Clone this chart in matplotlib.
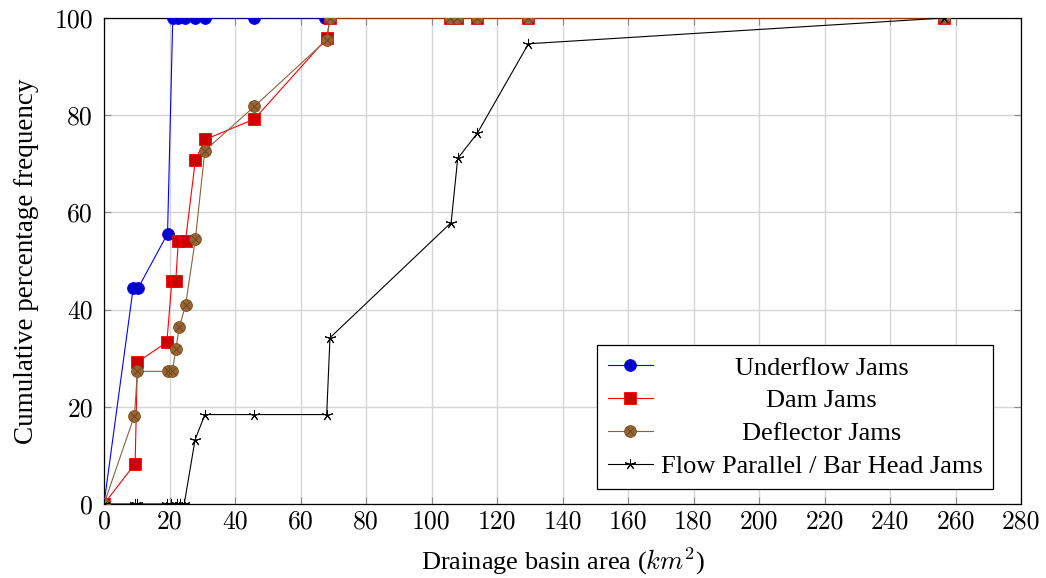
import matplotlib
matplotlib.use("Agg")
import matplotlib.pyplot as plt

# drainage basin area (km2) and cumulative percentage frequency per jam type
underflow_x = [0, 8.9, 10.4, 19.4, 21.0, 22.7, 24.7, 27.8, 30.8, 45.9, 67.5]
underflow_y = [0, 44.4, 44.4, 55.6, 100, 100, 100, 100, 100, 100, 100]

dam_x = [0, 9.5, 10.2, 19.2, 20.7, 21.9, 22.7, 24.9, 27.9, 30.9, 45.9, 68.0, 69.0,
         105.6, 107.7, 113.8, 129.6, 256.5]
dam_y = [0, 8.3, 29.2, 33.3, 45.8, 45.8, 54.2, 54.2, 70.8, 75.0, 79.2, 95.8, 100,
         100, 100, 100, 100, 100]

deflector_x = [0, 9.3, 10.2, 19.4, 20.9, 21.9, 23.0, 24.9, 27.9, 30.8, 45.9, 68.0, 69.0,
               105.6, 107.7, 113.8, 129.6, 256.5]
deflector_y = [0, 18.2, 27.3, 27.3, 27.3, 31.8, 36.4, 40.9, 54.5, 72.7, 81.8, 95.5, 100,
               100, 100, 100, 100, 100]

parallel_x = [0, 9.5, 10.0, 19.1, 20.6, 22.2, 23.2, 24.5, 27.8, 30.8, 45.9, 68.0, 69.0,
              106.0, 108.0, 114.0, 129.6, 256.5]
parallel_y = [0, 0, 0, 0, 0, 0, 0, 0, 13.2, 18.4, 18.4, 18.4, 34.2,
              57.9, 71.1, 76.3, 94.7, 100]

labels = ["Underflow Jams", "Dam Jams", "Deflector Jams", "Flow Parallel / Bar Head Jams"]

plt.rcParams["mathtext.fontset"] = "cm"
TEXT_FONT = "Liberation Serif"
TICK_FONT = "cmr10"


def plot_jams():
  fig = plt.figure(figsize=(10.46, 5.78), dpi=100)
  ax = fig.add_axes([0.09943, 0.12803, 0.87667, 0.84083])

  h1, = ax.plot(underflow_x, underflow_y, color="#0000ff", lw=0.8, marker="o", ms=8.5,
                mfc="#0000cc", mec="#0000ff", mew=0.6, zorder=3)
  h2, = ax.plot(dam_x, dam_y, color="#ff0000", lw=0.8, marker="s", ms=8.5,
                mfc="#cc0000", mec="#ff0000", mew=0.6, zorder=4)
  h3, = ax.plot(deflector_x, deflector_y, color="#8c6239", lw=0.8, marker="o", ms=8.5,
                mfc="#996633", mec="#7a5020", mew=0.6, zorder=5)
  h3x, = ax.plot(deflector_x, deflector_y, ls="none", marker="x", ms=5.5,
                 mec="#6b4520", mew=0.7, zorder=5.5)
  h4, = ax.plot(parallel_x, parallel_y, color="black", lw=0.8, marker=(5, 2, 0), ms=8,
                mec="black", mew=0.7, zorder=6)

  ax.set_xlim(0, 280)
  ax.set_ylim(0, 100)
  ax.set_xticks(range(0, 281, 20))
  ax.set_yticks(range(0, 101, 20))
  ax.grid(True, color="#d6d6d6", lw=1.0)
  ax.set_axisbelow(True)
  ax.tick_params(direction="in", top=True, right=True, length=5, width=0.8,
                 color="#888888", labelsize=18.5, pad=4)
  ax.tick_params(axis="y", pad=8)
  for t in ax.get_xticklabels() + ax.get_yticklabels():
    t.set_fontfamily(TICK_FONT)
  for s in ax.spines.values():
    s.set_linewidth(0.9)

  ax.set_xlabel(r"Drainage basin area ($km^2$)", fontsize=19, family=TEXT_FONT, labelpad=8.5)
  ax.set_ylabel("Cumulative percentage frequency", fontsize=19.5, family=TEXT_FONT, labelpad=11)

  leg = ax.legend([h1, h2, (h3, h3x), h4], labels, loc="lower right",
                  bbox_to_anchor=(0.9695, 0.0309), borderaxespad=0, fancybox=False,
                  framealpha=1, edgecolor="black", prop={"family": TEXT_FONT, "size": 19},
                  handlelength=1.7, handletextpad=0.3, labelspacing=0.36, borderpad=0.4)
  leg.get_frame().set_linewidth(0.9)

  # centre legend labels like pgfplots does
  fig.canvas.draw()
  widths = [t.get_window_extent().width for t in leg.get_texts()]
  wmax = max(widths)
  for t, w in zip(leg.get_texts(), widths):
    t.set_position(((wmax - w) / 2, 0))

  fig.savefig("out.png", dpi=100)


plot_jams()
